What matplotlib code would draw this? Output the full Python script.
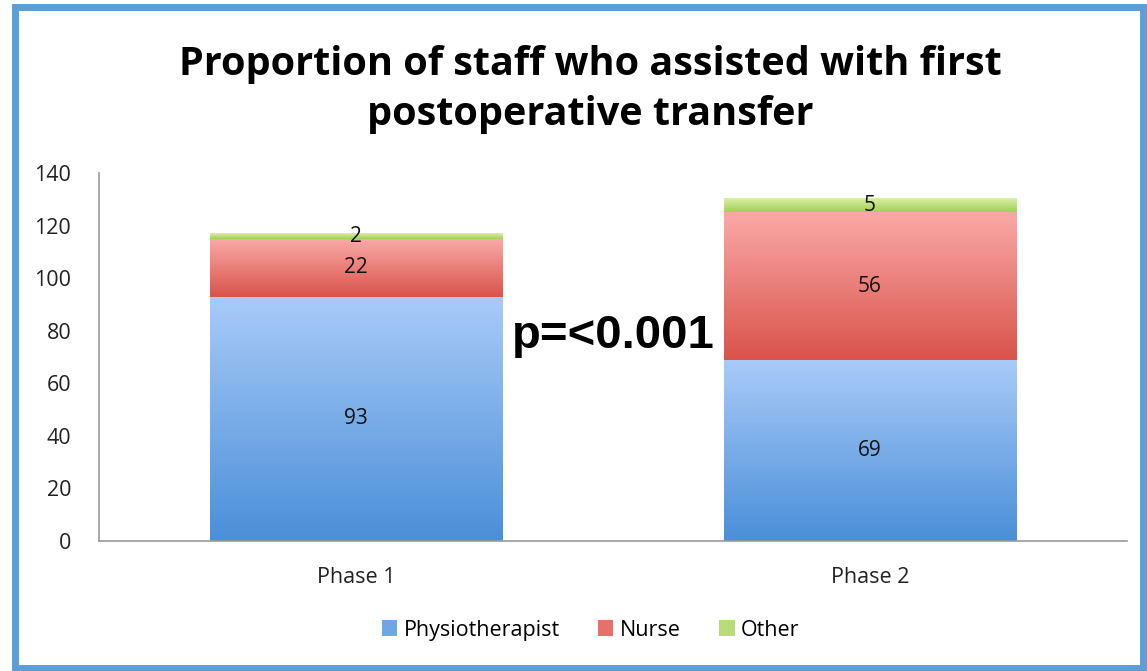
import matplotlib
matplotlib.use("Agg")
import matplotlib.pyplot as plt
import numpy as np
from matplotlib.patches import Rectangle, Patch
from matplotlib.colors import LinearSegmentedColormap

phases = ['Phase 1', 'Phase 2']
physio = [93, 69]
nurse = [22, 56]
other = [2, 5]

series = [
    ('Physiotherapist', physio, '#4a8fd8', '#a9cbf8', '#6fa6e6'),
    ('Nurse', nurse, '#d9534a', '#faa9a7', '#e8706b'),
    ('Other', other, '#a3cf58', '#d9f1a3', '#b9dc78'),
]

plt.rcParams['font.family'] = ['Open Sans', 'DejaVu Sans']

fig = plt.figure(figsize=(11.47, 6.71), dpi=100)
ax = fig.add_axes([0.0863, 0.1937, 0.8963, 0.5485])

x = np.arange(len(phases))
bottom = np.zeros(len(phases))
handles = []
grad = np.linspace(0, 1, 256).reshape(-1, 1)
for name, vals, dark, light, mid in series:
    bars = ax.bar(x, vals, 0.57, bottom=bottom, color='none', edgecolor='none')
    cmap = LinearSegmentedColormap.from_list(name, [dark, light])
    for b, v in zip(bars, vals):
        x0, y0, w, h = b.get_x(), b.get_y(), b.get_width(), b.get_height()
        ax.imshow(grad, cmap=cmap, aspect='auto', origin='lower',
                  extent=[x0, x0 + w, y0, y0 + h], zorder=2)
        ax.text(x0 + w / 2, y0 + h / 2, str(v), ha='center', va='center',
                fontsize=15, color='#111111', zorder=3)
    bottom += np.array(vals)
    handles.append(Patch(facecolor=mid, edgecolor='none', label=name))

ax.set_xlim(-0.5, 1.5)
ax.set_ylim(0, 140)
ax.set_yticks(range(0, 141, 20))
ax.set_xticks(x)
ax.set_xticklabels(phases)
ax.tick_params(length=0, labelsize=15.5, colors='#222222')
ax.tick_params(axis='y', pad=20)
ax.tick_params(axis='x', pad=19)
for s in ['top', 'right']:
    ax.spines[s].set_visible(False)
for s in ['left', 'bottom']:
    ax.spines[s].set_color('#9a9a9a')
    ax.spines[s].set_linewidth(1.2)

ax.text(0.5, 78, 'p=<0.001', ha='center', va='center', fontsize=34,
        fontweight='bold', family='Liberation Sans', color='black', zorder=4)

fig.text(0.515, 0.867, 'Proportion of staff who assisted with first\npostoperative transfer',
         ha='center', va='center', fontsize=28.5, fontweight='bold',
         linespacing=1.38)

fig.legend(handles=handles, loc='center', bbox_to_anchor=(0.515, 0.061), ncol=3,
           frameon=False, fontsize=15.5, handlelength=0.7, handleheight=0.7,
           handletextpad=0.3, columnspacing=1.8)

fig.patches.append(Rectangle((0.0131, 0.0045), 0.9869 - 0.0031, 0.9895 - 0.0045,
                             transform=fig.transFigure, fill=False,
                             edgecolor='#5b9fd6', linewidth=5))

fig.savefig('out.png', dpi=100)
